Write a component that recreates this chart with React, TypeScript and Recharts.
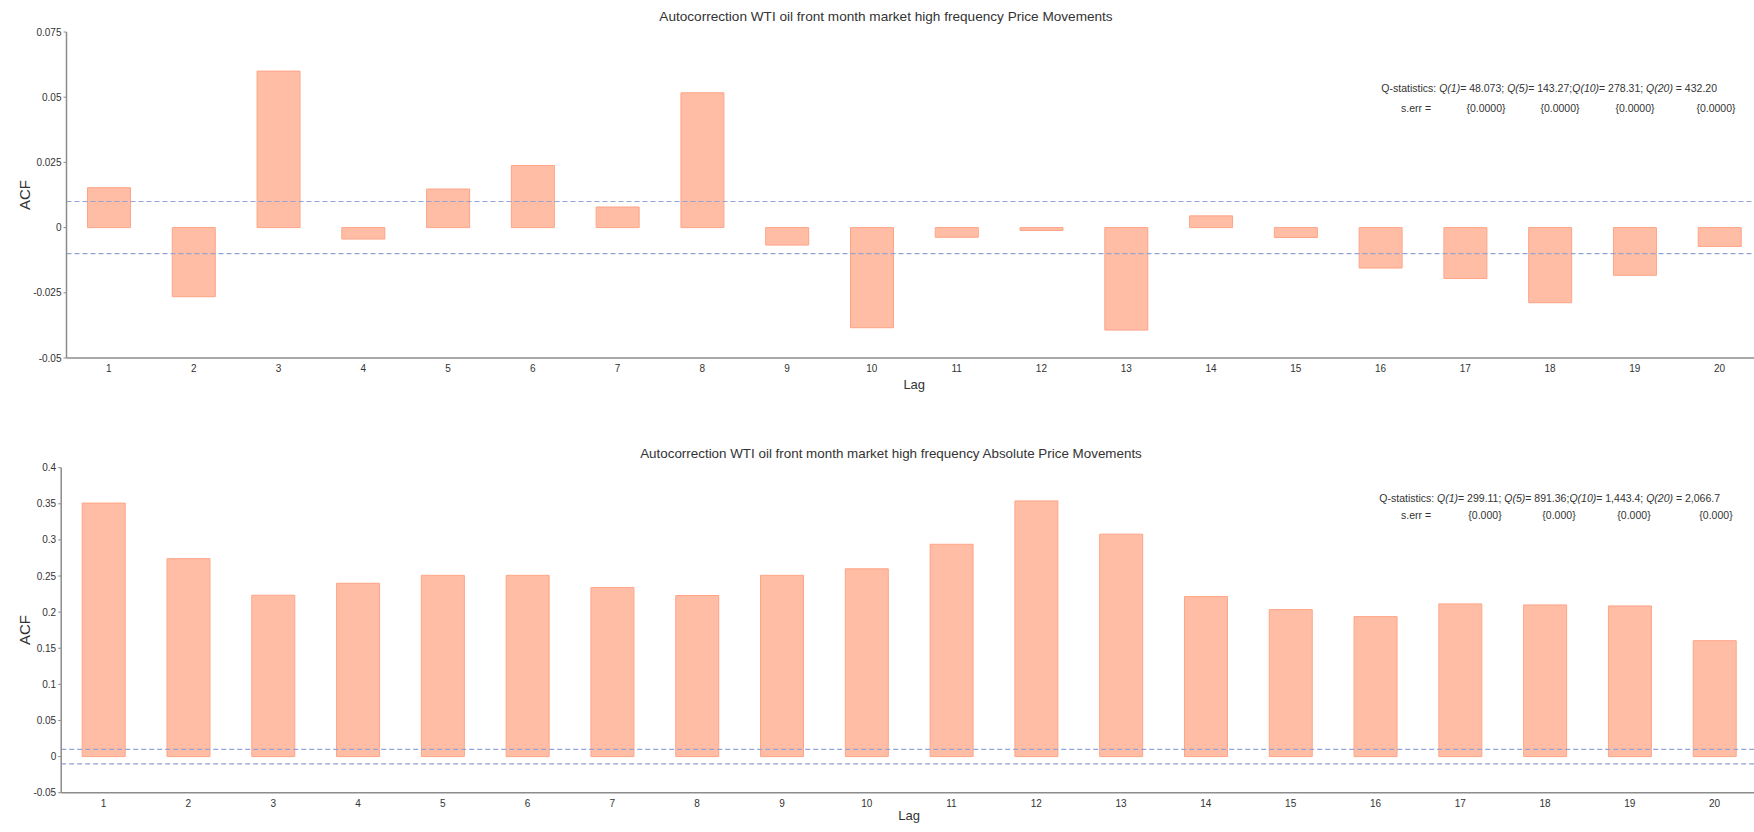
import React from "react";
import { BarChart, Bar, XAxis, YAxis, ReferenceLine, Label } from "recharts";

const lags = ["1","2","3","4","5","6","7","8","9","10","11","12","13","14","15","16","17","18","19","20"];
const priceAcf = [0.0153,-0.0265,0.0600,-0.0044,0.0148,0.0238,0.0079,0.0517,-0.0067,-0.0384,-0.0037,-0.0011,-0.0393,0.0045,-0.0038,-0.0155,-0.0195,-0.0288,-0.0183,-0.0072];
const absAcf = [0.351,0.274,0.2234,0.240,0.251,0.251,0.234,0.223,0.251,0.260,0.294,0.354,0.308,0.2215,0.2035,0.1938,0.2114,0.210,0.2086,0.1605];
const priceTicks = [-0.05,-0.025,0,0.025,0.05,0.075];
const absTicks = [-0.05,0,0.05,0.1,0.15,0.2,0.25,0.3,0.35,0.4];
const boundaryTicks = [1.5,2.5,3.5,4.5,5.5,6.5,7.5,8.5,9.5,10.5,11.5,12.5,13.5,14.5,15.5,16.5,17.5,18.5,19.5,20.5];
const confBand = 0.01;

const priceTitle = "Autocorrection WTI oil front month market high frequency Price Movements";
const absTitle = "Autocorrection WTI oil front month market high frequency Absolute Price Movements";
const qNames = ["Q(1)","Q(5)","Q(10)","Q(20)"];
const qSeps = ["= ","= ","= "," = "];
const qTails = ["; ",";","; ",""];
const priceQ = ["48.073","143.27","278.31","432.20"];
const absQ = ["299.11","891.36","1,443.4","2,066.7"];
const priceErr = ["{0.0000}","{0.0000}","{0.0000}","{0.0000}"];
const absErr = ["{0.000}","{0.000}","{0.000}","{0.000}"];

const FONT = "'Liberation Sans', Arial, sans-serif";
const BAR_FILL = "#FFBDA6";
const BAR_STROKE = "#FFA486";
const DASH = "#93A3D6";
const AXIS = "#8C8C8C";
const TXT = "#333";

const priceData = lags.map((lag, i) => ({ lag, acf: priceAcf[i] }));
const absData = lags.map((lag, i) => ({ lag, acf: absAcf[i] }));

function QText({ x, y, values }: { x: number; y: number; values: string[] }) {
  return (
    <text x={x} y={y} textAnchor="end" dominantBaseline="central" fontSize={10.5} fill={TXT} fontFamily={FONT}>
      <tspan>Q-statistics: </tspan>
      {qNames.map((q, i) => (
        <React.Fragment key={q}>
          <tspan fontStyle="italic">{q}</tspan>
          <tspan>{qSeps[i] + values[i] + qTails[i]}</tspan>
        </React.Fragment>
      ))}
    </text>
  );
}

function ErrText({ y, values, centers }: { y: number; values: string[]; centers: number[] }) {
  return (
    <g fontSize={10.5} fill={TXT} fontFamily={FONT}>
      <text x={1401} y={y} dominantBaseline="central">s.err =</text>
      {values.map((v, i) => (
        <text key={i} x={centers[i]} y={y} textAnchor="middle" dominantBaseline="central">{v}</text>
      ))}
    </g>
  );
}

function AcfChart({
  data, ticks, domain, width, height, top, yWidth, xHeight, lagOffset,
}: {
  data: { lag: string; acf: number }[]; ticks: number[]; domain: [number, number];
  width: number; height: number; top: number; yWidth: number; xHeight: number; lagOffset: number;
}) {
  return (
    <BarChart width={width} height={height} data={data} margin={{ top, right: 0, left: 10, bottom: 0 }} barSize={43}>
      <XAxis
        xAxisId="b"
        type="number"
        domain={[0.5, 20.5]}
        allowDataOverflow
        ticks={boundaryTicks}
        tick={false}
        tickLine={{ stroke: AXIS }}
        tickSize={3}
        axisLine={false}
        height={0}
      />
      <XAxis
        dataKey="lag"
        interval={0}
        tickLine={false}
        tickSize={3}
        tickMargin={4}
        axisLine={{ stroke: AXIS, strokeWidth: 1.5 }}
        tick={{ fill: TXT, fontSize: 10, fontFamily: FONT }}
        height={xHeight}
      >
        <Label value="Lag" position="insideTop" offset={lagOffset} fill={TXT} fontSize={13} fontFamily={FONT} />
      </XAxis>
      <YAxis
        type="number"
        domain={domain}
        ticks={ticks}
        interval={0}
        allowDataOverflow
        width={yWidth}
        tickSize={3}
        tickMargin={2}
        axisLine={{ stroke: AXIS, strokeWidth: 1.5 }}
        tickLine={{ stroke: AXIS }}
        tick={{ fill: TXT, fontSize: 10, fontFamily: FONT }}
      />
      <Bar dataKey="acf" fill={BAR_FILL} stroke={BAR_STROKE} strokeWidth={1} isAnimationActive={false} />
      <ReferenceLine y={confBand} stroke={DASH} strokeDasharray="5 3" strokeWidth={1.2} />
      <ReferenceLine y={-confBand} stroke={DASH} strokeDasharray="5 3" strokeWidth={1.2} />
    </BarChart>
  );
}

export default function App() {
  return (
    <div style={{ position: "absolute", left: 0, top: 0, width: 1754, height: 832, overflow: "hidden", background: "#fff" }}>
      <div style={{ position: "absolute", left: 0, top: 0 }}>
        <AcfChart data={priceData} ticks={priceTicks} domain={[-0.05, 0.075]} width={1762} height={410}
          top={32} yWidth={56.5} xHeight={52} lagOffset={22} />
      </div>
      <div style={{ position: "absolute", left: 0, top: 420 }}>
        <AcfChart data={absData} ticks={absTicks} domain={[-0.05, 0.4]} width={1757} height={412}
          top={47.7} yWidth={51.2} xHeight={39.3} lagOffset={18} />
      </div>
      <svg width={1754} height={832} style={{ position: "absolute", left: 0, top: 0, pointerEvents: "none" }}>
        <text x={886} y={16} textAnchor="middle" dominantBaseline="central" fontSize={13.6} fill={TXT} fontFamily={FONT}>{priceTitle}</text>
        <text x={891} y={453} textAnchor="middle" dominantBaseline="central" fontSize={13.4} fill={TXT} fontFamily={FONT}>{absTitle}</text>
        <text x={24} y={195} transform="rotate(-90 24 195)" textAnchor="middle" dominantBaseline="central" fontSize={15} fill={TXT} fontFamily={FONT}>ACF</text>
        <text x={24} y={630} transform="rotate(-90 24 630)" textAnchor="middle" dominantBaseline="central" fontSize={15} fill={TXT} fontFamily={FONT}>ACF</text>
        <QText x={1717} y={88} values={priceQ} />
        <ErrText y={108} values={priceErr} centers={[1486, 1560, 1635, 1716]} />
        <QText x={1720} y={498} values={absQ} />
        <ErrText y={515} values={absErr} centers={[1485, 1559, 1634, 1716]} />
      </svg>
    </div>
  );
}
